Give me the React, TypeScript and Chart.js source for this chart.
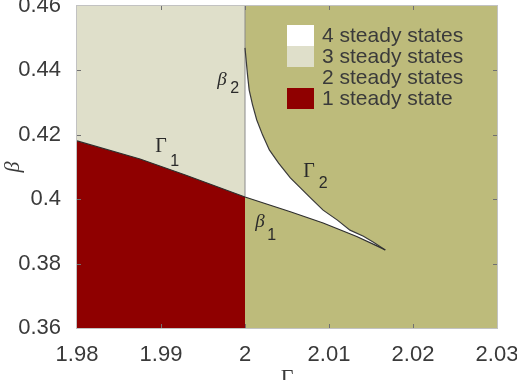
import React, { useEffect, useRef } from 'react';
import { Chart, registerables } from 'chart.js';

Chart.register(...registerables);

// ---- data ----
const xTicks = [1.98, 1.99, 2, 2.01, 2.02, 2.03];
const yTicks = [0.36, 0.38, 0.4, 0.42, 0.44, 0.46];

// Gamma_1 boundary (through beta_1 to the cusp)
const gamma1X = [1.98, 1.9875, 1.9929, 2.0, 2.0054, 2.0093, 2.0133, 2.0157, 2.0167];
const gamma1Y = [0.4181, 0.4125, 0.4075, 0.4007, 0.3961, 0.3926, 0.3884, 0.3855, 0.3842];

// Gamma_2 boundary (from beta_2 to the cusp)
const gamma2X = [2.0, 2.0003, 2.0005, 2.0009, 2.0014, 2.0021, 2.0029, 2.004, 2.0054, 2.0066, 2.0078, 2.0093, 2.011, 2.0125, 2.0141, 2.0153, 2.0167];
const gamma2Y = [0.447, 0.4386, 0.4339, 0.4293, 0.4246, 0.4199, 0.4153, 0.4112, 0.4066, 0.4035, 0.4004, 0.3966, 0.3935, 0.3904, 0.3885, 0.3866, 0.3842];

const splitX = 2;

const legendLabels = ['4 steady states', '3 steady states', '2 steady states', '1 steady state'];
const legendColors = ['#ffffff', '#dfdfca', '#bdbb7b', '#8f0000'];

const SANS = "'Liberation Sans', Arial, Helvetica, sans-serif";
const SERIF = "'Liberation Serif', 'Times New Roman', serif";
const TEXT = '#3a3a3a';

const annotations = [
  { main: 'Γ', sub: '1', x: 1.98932, y: 0.41466, dx: 15, dy: 14, italic: false },
  { main: 'β', sub: '2', x: 1.9967, y: 0.43547, dx: 13, dy: 8, italic: true },
  { main: 'Γ', sub: '2', x: 2.00694, y: 0.40689, dx: 15.5, dy: 11, italic: false },
  { main: 'β', sub: '1', x: 2.00123, y: 0.39137, dx: 12, dy: 13, italic: true },
];

const fmt = (v: number) => String(parseFloat(Number(v).toFixed(2)));

const overlay = {
  id: 'overlay',
  afterDatasetsDraw(chart: any) {
    const { ctx, chartArea: a, scales } = chart;
    const x = scales.x, y = scales.y;
    ctx.save();
    // inward ticks
    ctx.strokeStyle = '#707070';
    ctx.lineWidth = 1;
    ctx.beginPath();
    xTicks.slice(1, -1).forEach((v) => {
      const px = Math.round(x.getPixelForValue(v)) + 0.5;
      ctx.moveTo(px, a.bottom); ctx.lineTo(px, a.bottom - 4);
      ctx.moveTo(px, a.top); ctx.lineTo(px, a.top + 4);
    });
    yTicks.slice(1, -1).forEach((v) => {
      const py = Math.round(y.getPixelForValue(v)) + 0.5;
      ctx.moveTo(a.left, py); ctx.lineTo(a.left + 4, py);
      ctx.moveTo(a.right, py); ctx.lineTo(a.right - 4, py);
    });
    ctx.stroke();
    // frame
    ctx.strokeStyle = '#c2c2c2';
    ctx.strokeRect(Math.round(a.left) - 0.5, Math.round(a.top) - 0.5, Math.round(a.right - a.left) + 1, Math.round(a.bottom - a.top) + 1);
    ctx.restore();
  },
  afterDraw(chart: any) {
    const { ctx, chartArea: a, scales } = chart;
    const x = scales.x, y = scales.y;
    ctx.save();
    // legend
    const lx = a.left + 210, ly = a.top + 19, sw = 27, rh = 21;
    ctx.font = `21px ${SANS}`;
    ctx.textBaseline = 'middle';
    ctx.textAlign = 'left';
    legendLabels.forEach((t, i) => {
      ctx.fillStyle = legendColors[i];
      ctx.fillRect(lx, ly + i * rh, sw, rh);
      ctx.fillStyle = TEXT;
      ctx.fillText(t, lx + 35, ly + i * rh + rh / 2 + 1);
    });
    // annotations
    ctx.textBaseline = 'alphabetic';
    ctx.fillStyle = '#2a2a2a';
    annotations.forEach((an) => {
      const px = x.getPixelForValue(an.x);
      const py = y.getPixelForValue(an.y);
      ctx.font = an.italic ? `italic 19px ${SERIF}` : `20px ${SERIF}`;
      ctx.fillText(an.main, px, py);
      ctx.font = `16px ${SANS}`;
      ctx.fillText(an.sub, px + an.dx, py + an.dy);
    });
    // axis titles
    ctx.fillStyle = TEXT;
    ctx.textAlign = 'center';
    ctx.font = `22px ${SERIF}`;
    ctx.fillText('Γ', (a.left + a.right) / 2, a.bottom + 56);
    ctx.translate(a.left - 64, (a.top + a.bottom) / 2);
    ctx.rotate(-Math.PI / 2);
    ctx.textBaseline = 'middle';
    ctx.font = `italic 22px ${SERIF}`;
    ctx.fillText('β', 0, 0);
    ctx.restore();
  },
};

export default function App() {
  const ref = useRef<HTMLCanvasElement>(null);
  useEffect(() => {
    if (!ref.current) return;
    const pts = (xs: number[], ys: number[]) => xs.map((v, i) => ({ x: v, y: ys[i] }));
    const g1 = pts(gamma1X, gamma1Y);
    const g2 = pts(gamma2X, gamma2Y);
    const xMin = xTicks[0], xMax = xTicks[xTicks.length - 1];
    const yMin = yTicks[0], yMax = yTicks[yTicks.length - 1];
    const g1Left = g1.filter((p) => p.x <= splitX);
    const g1Right = g1.filter((p) => p.x >= splitX);
    const whitePoly = [...g2, ...g1Right.slice(0, -1).reverse(), g2[0]];
    const splitY = g1Left[g1Left.length - 1].y;

    const base = { pointRadius: 0, pointHoverRadius: 0, tension: 0, borderWidth: 0, borderColor: 'rgba(0,0,0,0)' };

    const chart = new Chart(ref.current, {
      type: 'line',
      data: {
        datasets: [
          { ...base, data: g1, borderWidth: 1.2, borderColor: '#2e2e2e', fill: false, order: 0 },
          { ...base, data: g2, borderWidth: 1.2, borderColor: '#3a3a3a', fill: false, order: 1 },
          { ...base, data: [{ x: splitX, y: splitY }, { x: splitX, y: yMax }], borderWidth: 1, borderColor: '#8a8a8a', fill: false, order: 2 },
          { ...base, data: whitePoly, backgroundColor: legendColors[0], fill: 'shape', order: 3 },
          { ...base, data: g1Left, backgroundColor: legendColors[3], fill: 'start', order: 4 },
          { ...base, data: g1Left, backgroundColor: legendColors[1], fill: 'end', order: 5 },
          { ...base, data: [{ x: xMin, y: yMax }, { x: xMax, y: yMax }], backgroundColor: legendColors[2], fill: 'start', order: 6 },
        ] as any,
      },
      options: {
        responsive: false,
        animation: false,
        devicePixelRatio: 1,
        events: [],
        layout: { padding: { left: 0, right: 20, top: 6, bottom: 0 } },
        plugins: { legend: { display: false }, tooltip: { enabled: false } },
        scales: {
          x: {
            type: 'linear',
            min: xMin,
            max: xMax,
            grid: { display: false },
            border: { display: false },
            ticks: { font: { family: SANS, size: 22 }, color: TEXT, padding: 6, maxRotation: 0, autoSkip: false, callback: (v: any) => fmt(v) },
            afterBuildTicks: (s: any) => { s.ticks = xTicks.map((v) => ({ value: v })); },
            afterFit: (s: any) => { s.height = 52; s.paddingLeft = 0; s.paddingRight = 0; },
          },
          y: {
            type: 'linear',
            min: yMin,
            max: yMax,
            grid: { display: false },
            border: { display: false },
            ticks: { font: { family: SANS, size: 22 }, color: TEXT, padding: 8, autoSkip: false, callback: (v: any) => fmt(v) },
            afterBuildTicks: (s: any) => { s.ticks = yTicks.map((v) => ({ value: v })); },
            afterFit: (s: any) => { s.width = 77; s.paddingTop = 0; s.paddingBottom = 0; },
          },
        },
      } as any,
      plugins: [overlay],
    });
    return () => chart.destroy();
  }, []);

  return (
    <div style={{ position: 'fixed', left: 0, top: 0, width: 517, height: 380, background: '#fff' }}>
      <canvas ref={ref} width={517} height={380} style={{ display: 'block', width: 517, height: 380 }} />
    </div>
  );
}
